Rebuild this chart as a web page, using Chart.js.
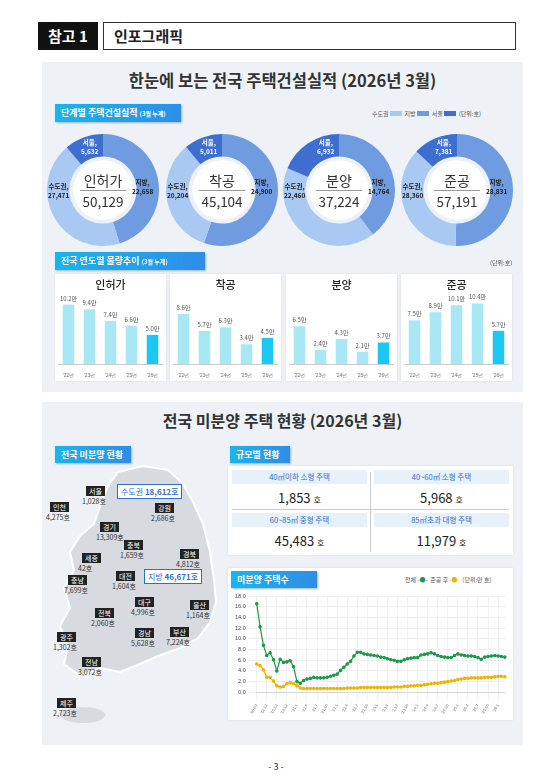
<!DOCTYPE html>
<html><head><meta charset="utf-8">
<script src="https://cdn.jsdelivr.net/npm/chart.js@4"></script>
<style>
*{box-sizing:border-box;margin:0;padding:0}
body{width:552px;height:777px;background:#fff;font-family:"Noto Sans CJK KR","Noto Sans",sans-serif;position:relative;overflow:hidden;color:#222}
.abs{position:absolute}
.lbl{position:absolute;background:linear-gradient(90deg,#19b5ec,#2f8de8);color:#fff;font-weight:700;font-size:9px;padding:2px 6px;line-height:13px;box-shadow:1px 1px 2px #9bb}
.card{position:absolute;background:#fff;box-shadow:0 0 2px #cdd}
.dn{position:absolute;width:112px;height:112px}
.center{position:absolute;width:112px;text-align:center;color:#333}
.tg{font-size:6.5px;font-weight:700;color:#222;position:absolute;text-align:center;line-height:9px}
.rg{position:absolute;background:#222;color:#fff;font-size:7px;padding:0 3px;line-height:10px}
.rv{position:absolute;font-size:7px;color:#333;line-height:9px}
</style></head><body>
<div class="abs" style="left:38px;top:22px;width:60px;height:28px;background:#111;color:#fff;font-weight:700;font-size:15px;text-align:center;line-height:28px">참고 1</div>
<div class="abs" style="left:103px;top:22px;width:413px;height:28px;border:1px solid #333;font-weight:700;font-size:15px;line-height:26px;padding-left:10px">인포그래픽</div>

<div class="abs" style="left:42px;top:62px;width:481px;height:330px;background:#eef2f6"></div>
<div class="abs" style="left:42px;top:68px;width:481px;text-align:center;font-weight:700;font-size:16.5px;color:#333">한눈에 보는 전국 주택건설실적 (2026년 3월)</div>
<div class="lbl" style="left:55px;top:104px;width:126px">단계별 주택건설실적 <span style="font-size:6px">(3월 누계)</span></div>
<div class="abs" style="left:372px;top:109px;font-size:6px;color:#555">수도권 <span style="display:inline-block;width:12px;height:5px;background:#a9c9f3"></span>&nbsp; 지방 <span style="display:inline-block;width:12px;height:5px;background:#6f9be0"></span>&nbsp; 서울 <span style="display:inline-block;width:12px;height:5px;background:#3e6fd0"></span>&nbsp; (단위:호)</div>

<div id="donuts"></div>

<div class="lbl" style="left:55px;top:252px;width:150px">전국 연도별 물량추이 <span style="font-size:6px">(3월 누계)</span></div>
<div class="abs" style="left:490px;top:258px;font-size:6px;color:#555">(단위:호)</div>
<div id="bars"></div>

<div class="abs" style="left:42px;top:402px;width:481px;height:343px;background:#eef2f6"></div>
<div class="abs" style="left:42px;top:408px;width:481px;text-align:center;font-weight:700;font-size:16px;color:#333">전국 미분양 주택 현황 (2026년 3월)</div>
<div class="lbl" style="left:55px;top:446px;width:76px">전국 미분양 현황</div>
<svg class="abs" style="left:48px;top:462px" width="170" height="270">
<path d="M70,10 L95,4 L120,8 L135,22 L145,40 L155,62 L162,90 L166,118 L168,140 L162,160 L150,176 L132,186 L110,194 L92,202 L72,210 L52,206 L32,214 L16,202 L20,184 L12,164 L22,146 L16,126 L26,108 L22,90 L32,74 L46,62 L52,44 L60,24 Z" fill="#d7dbe0" stroke="#fff" stroke-width="2"/>
<ellipse cx="35" cy="253" rx="22" ry="8" fill="#d7dbe0"/>
</svg>
<div id="map"></div>

<div class="lbl" style="left:230px;top:446px;width:60px">규모별 현황</div>
<div class="card" style="left:228px;top:466px;width:285px;height:89px"></div>
<div id="tbl"></div>

<div class="card" style="left:228px;top:568px;width:285px;height:152px"></div>
<div class="lbl" style="left:231px;top:571px;width:86px">미분양 주택수</div>
<div class="abs" style="left:405px;top:575px;font-size:6px;color:#555">전체 <span style="color:#1a9a4a">-●-</span> &nbsp;준공 후 <span style="color:#f0b400">-●-</span> &nbsp;(단위:만 호)</div>
<div class="abs" style="left:232px;top:590px;width:278px;height:128px"><canvas id="line"></canvas></div>

<div class="abs" style="left:0;top:760px;width:552px;text-align:center;font-size:9px;color:#333">- 3 -</div>

<script>
const donutNames=['인허가','착공','분양','준공'];
const donutTotal=[50129,45104,37224,57191];
const donutCapital=[27471,20204,22460,28360];
const donutRegion=[22658,24900,14764,28831];
const donutSeoul=[5632,5011,6932,7381];

const barYears=["'22년","'23년","'24년","'25년","'26년"];
const barPermit=[10.2,9.4,7.4,6.6,5.0];
const barStart=[8.6,5.7,6.3,3.4,4.5];
const barSale=[6.5,2.4,4.3,2.1,3.7];
const barDone=[7.5,8.9,10.1,10.4,5.7];

const regions=[['서울','1,028호',86,486],['인천','4,275호',50,502],['경기','13,309호',100,522],['강원','2,686호',155,503],['충북','1,659호',124,540],['세종','42호',82,553],['경북','4,812호',180,549],['충남','7,699호',68,575],['대전','1,604호',116,571],['대구','4,996호',135,597],['전북','2,060호',95,608],['울산','1,164호',190,600],['경남','5,628호',135,628],['부산','7,224호',170,627],['광주','1,302호',57,632],['전남','3,072호',82,657],['제주','2,723호',57,698]];

const sizeNames=['40㎡이하 소형 주택','40~60㎡ 소형 주택','60~85㎡ 중형 주택','85㎡초과 대형 주택'];
const sizeVals=['1,853','5,968','45,483','11,979'];

const lineLabels=["'09.03","'10.12","'11.12","'12.12","'13.12","'14.12","'15.12","'16.12","'17.12","'18.12","'19.12","'20.12"];
for(let y=21;y<=26;y++){const m=y===26?3:12;for(let k=1;k<=m;k++)lineLabels.push("'"+y+"."+k);}
const totalUnsold=[16.6,12.3,8.8,6.9,7.4,6.1,4.0,6.2,5.6,5.7,5.9,4.8,
2.0,1.7,2.2,2.5,2.6,2.8,2.7,2.7,2.7,2.8,3.0,3.2,
3.4,4.1,4.7,5.3,5.8,6.8,7.5,7.5,7.2,7.1,7.0,6.9,
6.8,6.6,6.5,6.3,6.1,6.0,5.8,5.8,6.1,6.3,6.4,6.5,
6.5,7.0,7.1,7.2,7.4,7.2,6.9,6.7,6.6,6.5,6.5,6.9,
7.2,7.0,6.9,6.8,6.8,6.7,6.5,6.2,6.6,6.7,6.8,6.9,6.8,6.7,6.6];
const afterDone=[5.3,5.0,4.2,2.8,2.8,2.1,1.2,1.0,1.1,1.6,1.8,1.6,
1.2,0.8,0.7,0.7,0.7,0.7,0.7,0.7,0.7,0.7,0.7,0.7,
0.7,0.7,0.7,0.8,0.8,0.8,0.8,0.9,0.9,0.9,0.9,0.9,
0.9,0.9,0.9,0.9,0.9,1.0,1.0,1.0,1.1,1.1,1.2,1.2,
1.3,1.3,1.4,1.5,1.6,1.7,1.7,1.8,1.9,2.0,2.1,2.2,
2.4,2.5,2.6,2.6,2.7,2.7,2.7,2.7,2.8,2.8,2.8,2.9,3.0,3.0,2.9];

const whiteCenter={id:'wc',beforeDatasetsDraw(c){const m=c.getDatasetMeta(0).data[0];if(!m)return;const ctx=c.ctx;ctx.save();ctx.fillStyle='#fff';ctx.beginPath();ctx.arc(m.x,m.y,m.innerRadius*0.88,0,Math.PI*2);ctx.fill();ctx.restore();},afterDatasetsDraw(c){const m=c.getDatasetMeta(0).data[0];const ctx=c.ctx;ctx.save();ctx.fillStyle='#fff';ctx.beginPath();ctx.arc(m.x,m.y,m.innerRadius*0.88,0,Math.PI*2);ctx.fill();ctx.restore();}};
const cx=[103,222,339,457];
const dd=document.getElementById('donuts');
donutNames.forEach((n,i)=>{
  const l=cx[i]-56,t=134;
  dd.insertAdjacentHTML('beforeend',`<div class="dn" style="left:${l}px;top:${t}px"><canvas id="d${i}"></canvas></div>
  <div class="tg" style="left:${l+1}px;top:${t+48}px">수도권,<br>${donutCapital[i].toLocaleString()}</div>
  <div class="tg" style="left:${l+85}px;top:${t+44}px">지방,<br>${donutRegion[i].toLocaleString()}</div>
  <div class="tg" style="left:${l+34}px;top:${t+4}px;color:#fff">서울,<br>${donutSeoul[i].toLocaleString()}</div>`);
  new Chart(document.getElementById('d'+i),{type:'doughnut',data:{labels:['지방','수도권','서울'],datasets:[{data:[donutRegion[i],donutCapital[i]-donutSeoul[i],donutSeoul[i]],backgroundColor:['#6f9be0','#a9c9f3','#3e6fd0'],borderWidth:0}]},options:{animation:false,responsive:true,maintainAspectRatio:false,cutout:'60%',plugins:{legend:{display:false},tooltip:{enabled:false}}},plugins:[whiteCenter]});
  dd.insertAdjacentHTML('beforeend',`<div class="center" style="left:${l}px;top:${t+36}px;font-size:14px">${n}</div>
  <div class="abs" style="left:${l+33}px;top:${t+56}px;width:46px;border-top:1px solid #999"></div>
  <div class="center" style="left:${l}px;top:${t+57}px;font-size:13.5px">${donutTotal[i].toLocaleString()}</div>`);
});

const bx=[55,170,286,401],bd=[barPermit,barStart,barSale,barDone];
const bb=document.getElementById('bars');
const valPlug={id:'vp',afterDatasetsDraw(c){const ctx=c.ctx;ctx.save();ctx.font='6px "Noto Sans CJK KR"';ctx.fillStyle='#555';ctx.textAlign='center';c.getDatasetMeta(0).data.forEach((b,j)=>ctx.fillText(c.data.datasets[0].data[j].toFixed(1)+'만',b.x,b.y-4));ctx.restore();}};
donutNames.forEach((n,i)=>{
  bb.insertAdjacentHTML('beforeend',`<div class="card" style="left:${bx[i]}px;top:274px;width:111px;height:107px"></div>
  <div class="abs" style="left:${bx[i]}px;top:276px;width:111px;text-align:center;font-size:11px;font-weight:500">${n}</div>
  <div class="abs" style="left:${bx[i]+3}px;top:292px;width:105px;height:88px"><canvas id="b${i}"></canvas></div>`);
  new Chart(document.getElementById('b'+i),{type:'bar',data:{labels:barYears,datasets:[{data:bd[i],backgroundColor:['#a8e8f5','#a8e8f5','#a8e8f5','#a8e8f5','#1cc8f2'],barPercentage:0.55,categoryPercentage:1}]},options:{animation:false,responsive:true,maintainAspectRatio:false,layout:{padding:{top:8}},plugins:{legend:{display:false},tooltip:{enabled:false}},scales:{y:{display:false,min:0,max:11},x:{grid:{display:false},border:{color:'#ccc'},ticks:{font:{size:5},color:'#777',padding:1}}}},plugins:[valPlug]});
});

const mp=document.getElementById('map');
regions.forEach(r=>{mp.insertAdjacentHTML('beforeend',`<div class="rg" style="left:${r[2]}px;top:${r[3]}px">${r[0]}</div><div class="rv" style="left:${r[2]-4}px;top:${r[3]+11}px">${r[1]}</div>`);});
mp.insertAdjacentHTML('beforeend',`<div class="abs" style="left:117px;top:484px;border:1px solid #2f6fd0;background:#fff;font-size:8px;padding:1px 3px;color:#2f6fd0">수도권 <b>18,612호</b></div>
<div class="abs" style="left:144px;top:569px;border:1px solid #2f6fd0;background:#fff;font-size:8px;padding:1px 3px;color:#2f6fd0">지방 <b>46,671호</b></div>`);

const tb=document.getElementById('tbl');
const pos=[[228,468],[370,468],[228,511],[370,511]];
sizeNames.forEach((n,i)=>{const [l,t]=pos[i];
 tb.insertAdjacentHTML('beforeend',`<div class="abs" style="left:${l+4}px;top:${t+2}px;width:135px;height:14px;background:#e6f1fa;text-align:center;font-size:7.5px;color:#2f6fd0;line-height:14px">${n}</div>
 <div class="abs" style="left:${l}px;top:${t+20}px;width:143px;text-align:center;font-size:13px">${sizeVals[i]} <span style="font-size:8px">호</span></div>`);});
tb.insertAdjacentHTML('beforeend','<div class="abs" style="left:370px;top:472px;width:1px;height:80px;background:#ccc"></div><div class="abs" style="left:232px;top:509px;width:277px;height:1px;background:#ccc"></div>');

new Chart(document.getElementById('line'),{type:'line',data:{labels:lineLabels,datasets:[
 {data:totalUnsold,borderColor:'#1a9a4a',backgroundColor:'#1a9a4a',borderWidth:1.2,pointRadius:1.2},
 {data:afterDone,borderColor:'#f2b300',backgroundColor:'#f2b300',borderWidth:1.2,pointRadius:1.2}]},
 options:{animation:false,responsive:true,maintainAspectRatio:false,plugins:{legend:{display:false},tooltip:{enabled:false}},
 scales:{y:{min:0,max:18,ticks:{stepSize:2,font:{size:5.5},color:'#444',callback:v=>v.toFixed(1)},grid:{color:'#eee'},border:{display:false}},
 x:{grid:{color:'#f2f2f2'},ticks:{font:{size:4},color:'#666',maxRotation:60,minRotation:60,autoSkip:true,maxTicksLimit:28}}}}});
</script>
</body></html>
